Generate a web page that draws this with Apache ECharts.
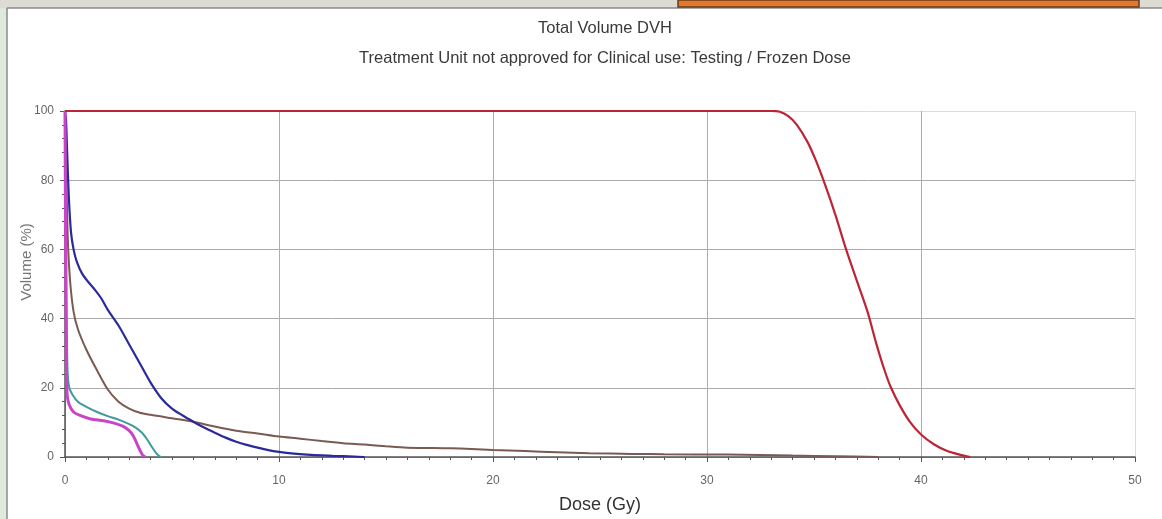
<!DOCTYPE html>
<html>
<head>
<meta charset="utf-8">
<script src="https://cdn.jsdelivr.net/npm/echarts@6/dist/echarts.min.js"></script>
<style>
  html, body { margin: 0; padding: 0; background: #ffffff; }
  #chart { width: 1162px; height: 519px; }
</style>
</head>
<body>
<div id="chart"></div>
<script>
// Dose-volume histogram: [dose (Gy), volume (%)] per structure
const ptv = [[0,100],[33.0,100],[33.4,99.8],[33.8,98.5],[34.2,96],[34.7,91],[35.1,85.5],[35.5,79],[36.0,70],[36.5,60],[37.0,51],[37.5,42],[37.9,33],[38.3,25],[38.6,20],[39.0,15],[39.5,10],[40.0,6.5],[40.6,3.7],[41.2,1.8],[41.8,0.7],[42.3,0]];
const blue = [[0,100],[0.05,97],[0.1,88],[0.18,75],[0.28,65],[0.4,60],[0.55,56.5],[0.8,53],[1.1,50.5],[1.4,48.3],[1.7,45.8],[2.0,42.5],[2.5,38],[3.0,32.5],[3.5,27],[4.0,21.5],[4.5,17],[5.0,14],[5.5,12],[6.0,10.2],[6.5,8.5],[7.0,7],[7.5,5.6],[8.0,4.4],[8.5,3.5],[9.0,2.7],[9.5,2.0],[10.0,1.5],[10.7,1.0],[11.5,0.6],[12.5,0.35],[13.5,0.15],[14,0]];
const brown = [[0,100],[0.05,85],[0.1,70],[0.15,60],[0.25,50],[0.4,42],[0.6,37],[1.0,31],[1.5,25],[2.0,19.5],[2.5,16],[3.0,14],[3.5,12.8],[4.0,12.2],[5.0,11.2],[6.0,10.2],[7.0,8.8],[8.0,7.6],[9.0,6.8],[10.0,5.9],[11.0,5.3],[12.0,4.6],[13.0,4.0],[14.0,3.6],[15.0,3.1],[16.0,2.7],[18.0,2.5],[19.0,2.3],[20.0,2.0],[21.5,1.7],[23.0,1.4],[24.5,1.1],[26.5,0.9],[28.0,0.8],[31.0,0.7],[34.0,0.4],[36.0,0.2],[38.0,0]];
const teal = [[0,100],[0.04,70],[0.08,40],[0.12,25],[0.2,20],[0.35,18],[0.6,16],[1.0,14.5],[1.5,13],[2.0,11.8],[2.5,10.8],[3.0,9.5],[3.3,8.5],[3.6,7],[3.85,5],[4.05,3],[4.25,1.2],[4.4,0.3],[4.5,0]];
const magenta = [[0,100],[0.03,60],[0.06,30],[0.1,18],[0.2,15],[0.4,13],[0.7,12],[1.2,11],[1.8,10.5],[2.3,9.8],[2.7,8.9],[3.0,7.6],[3.2,6],[3.35,4],[3.5,2],[3.62,0.6],[3.75,0]];

const chartTitle = 'Total Volume DVH';
const chartSubtitle = 'Treatment Unit not approved for Clinical use: Testing / Frozen Dose';
const xName = 'Dose (Gy)';
const yName = 'Volume (%)';

const chart = echarts.init(document.getElementById('chart'), null, { renderer: 'canvas' });
const font = 'Liberation Sans, Arial, sans-serif';
const gridColors = ['#ababab', '#ababab', '#ababab', '#ababab', '#ababab', '#dcdcdc'];

function curve(data, color, width) {
  return {
    type: 'line',
    data: data,
    showSymbol: false,
    smooth: 0.3,
    lineStyle: { color: color, width: width },
    animation: false
  };
}

chart.setOption({
  backgroundColor: '#ffffff',
  animation: false,
  title: [
    { text: chartTitle, left: 600, top: 15, textAlign: 'center',
      textStyle: { fontFamily: font, fontSize: 16.5, fontWeight: 'normal', color: '#3a3a3a' } },
    { text: chartSubtitle, left: 600, top: 45, textAlign: 'center',
      textStyle: { fontFamily: font, fontSize: 16.5, fontWeight: 'normal', color: '#3a3a3a' } }
  ],
  graphic: [
    // window frame
    { type: 'rect', shape: { x: 0, y: 0, width: 7, height: 519 }, style: { fill: '#dfeadd' }, z: -1 },
    { type: 'rect', shape: { x: 0, y: 0, width: 1162, height: 8 }, style: { fill: '#dcdcd4' }, z: -1 },
    { type: 'line', shape: { x1: 7, y1: 8, x2: 7, y2: 519 }, style: { stroke: '#8a8a8a', lineWidth: 1.5 } },
    { type: 'line', shape: { x1: 7, y1: 8, x2: 1162, y2: 8 }, style: { stroke: '#8a8a8a', lineWidth: 1.5 } },
    { type: 'rect', shape: { x: 678, y: 0, width: 461, height: 7 }, style: { fill: '#e2782c', stroke: '#6b3a18', lineWidth: 1.5 } },
    // vertical axis title
    { type: 'text', x: 27, y: 262, rotation: Math.PI / 2,
      style: { text: yName, fontFamily: font, fontSize: 15, fill: '#777', align: 'center', verticalAlign: 'middle' } }
  ],
  grid: { left: 65, right: 27, top: 111, bottom: 58 },
  xAxis: {
    type: 'value', min: 0, max: 50, interval: 10,
    name: xName, nameLocation: 'middle', nameGap: 39,
    nameTextStyle: { fontFamily: font, fontSize: 18, color: '#333' },
    axisLine: { onZero: false, lineStyle: { color: '#555', width: 1.5 } },
    axisTick: { show: true, length: 5, lineStyle: { color: '#555' } },
    minorTick: { show: true, splitNumber: 10, length: 3, lineStyle: { color: '#555' } },
    axisLabel: { fontFamily: font, fontSize: 12, color: '#666', margin: 18 },
    splitLine: { show: true, lineStyle: { color: gridColors, width: 1 } }
  },
  yAxis: {
    type: 'value', min: 0, max: 100, interval: 20,
    axisLine: { show: true, lineStyle: { color: '#555', width: 1.5 } },
    axisTick: { show: true, length: 5, lineStyle: { color: '#555' } },
    minorTick: { show: true, splitNumber: 5, length: 3, lineStyle: { color: '#555' } },
    axisLabel: { fontFamily: font, fontSize: 12, color: '#666', margin: 11 },
    splitLine: { show: true, lineStyle: { color: gridColors, width: 1 } }
  },
  series: [
    curve(brown, '#7b5a52', 2),
    curve(blue, '#2a2a9c', 2.2),
    curve(teal, '#3f9a9c', 2),
    curve(magenta, '#c944c9', 3),
    curve(ptv, '#bd2436', 2.2)
  ]
});
</script>
</body>
</html>
